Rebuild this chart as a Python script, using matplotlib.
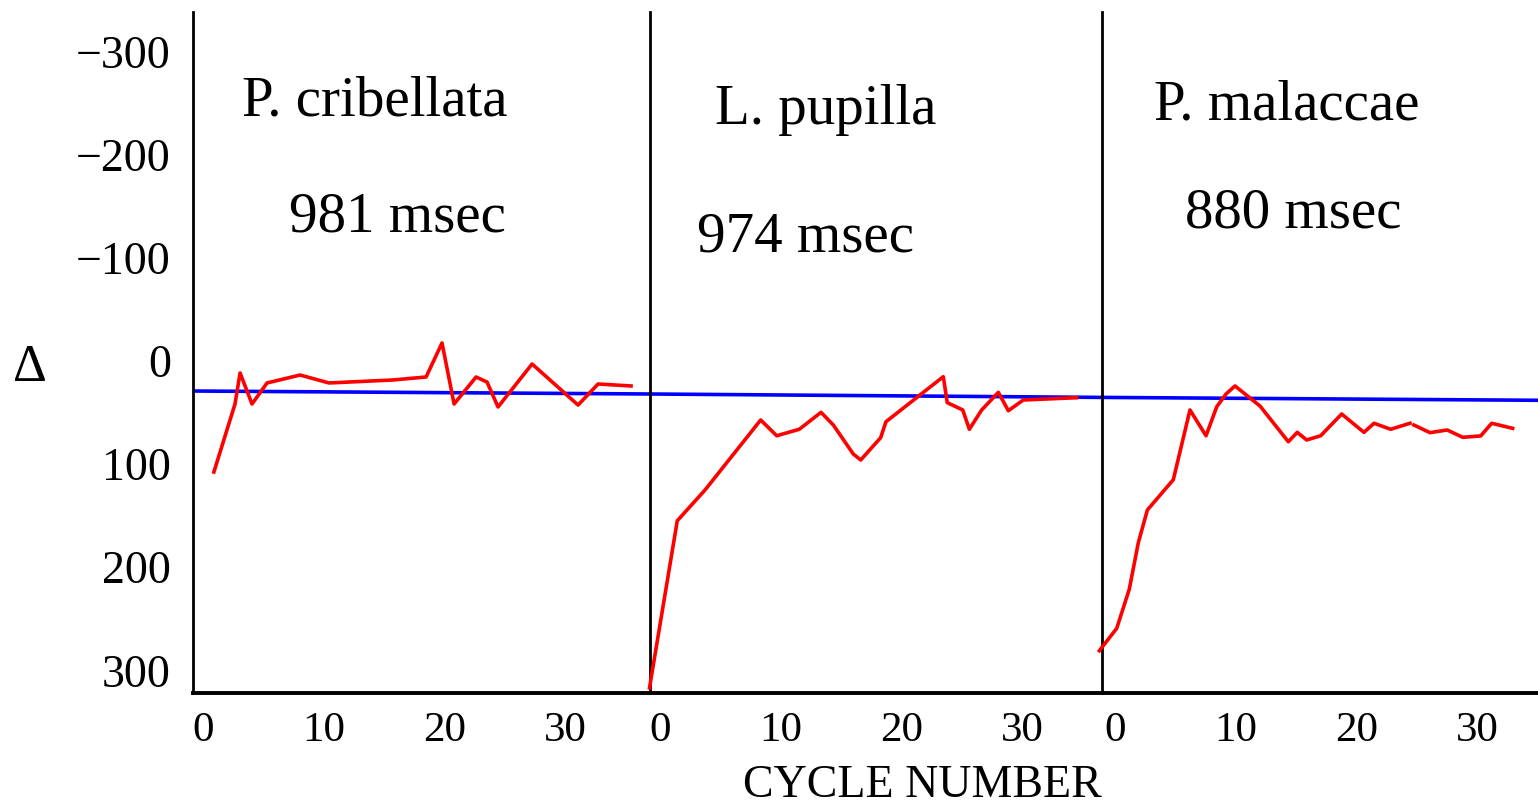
import numpy as np
import matplotlib
matplotlib.use("Agg")
import matplotlib.pyplot as plt

plt.rcParams['font.family'] = ['Liberation Serif', 'DejaVu Serif']

# data (cycle number, delta in msec)
species = ['P. cribellata', 'L. pupilla', 'P. malaccae']
periods = ['981 msec', '974 msec', '880 msec']

cyc_crib = [0.9, 2.65, 3.07, 4.06, 5.3, 8.04, 10.44, 15.74, 18.48, 19.8, 20.8,
            22.62, 23.53, 24.44, 27.26, 31.07, 32.73, 35.46]
delta_crib = [107.7, 41.7, 11.6, 41.7, 21.3, 13.6, 21.3, 18.4, 15.5, -17.5, 41.7,
              15.5, 20.4, 44.6, 2.9, 42.7, 22.3, 24.2]

cyc_pup = [-0.87, 1.43, 3.73, 8.34, 9.67, 11.54, 13.34, 14.36, 16.01, 16.63,
           18.28, 18.72, 23.47, 23.8, 25.08, 25.63, 26.65, 28.03, 28.86, 30.1, 34.52]
delta_pup = [317.0, 154.9, 125.1, 57.2, 72.5, 66.2, 49.8, 62.1, 90.2, 96.0,
             74.4, 58.9, 15.2, 40.4, 47.5, 66.2, 47.5, 30.4, 48.2, 37.8, 35.6]

cyc_mal = [-1.3, 0.14, 1.18, 1.93, 2.68, 4.83, 6.21, 7.54, 8.43, 9.2, 9.94,
           12.01, 14.36, 15.1, 15.88, 17.04, 18.78, 20.63, 21.46, 22.84, 24.44,
           np.nan, 24.77, 26.1, 27.53, 28.81, 30.3, 31.21, 32.95]
delta_mal = [281.0, 259.3, 221.4, 176.2, 144.5, 115.1, 47.5, 72.5, 44.3, 32.0, 24.2,
             43.6, 78.3, 69.2, 76.6, 72.5, 51.4, 69.2, 60.4, 66.2, 60.4,
             np.nan, 62.1, 69.5, 66.9, 74.0, 72.7, 60.4, 65.3]

# blue reference line, start/end value in each panel
ref_start = [29.1, 32.0, 35.3]
ref_end = [32.0, 35.3, 38.1]

yticks = [-300, -200, -100, 0, 100, 200, 300]
ytick_labels = ['\u2212300', '\u2212200', '\u2212100', '0', '100', '200', '300']
xticks = [0, 10, 20, 30]

W, H = 1538, 810
fig = plt.figure(figsize=(W / 100, H / 100), dpi=100)

lefts = [193, 650, 1102, 1538]
xlims = [(-0.83, 37.03), (-0.83, 36.62), (-1.08, 35.05)]
series = [(cyc_crib, delta_crib), (cyc_pup, delta_pup), (cyc_mal, delta_mal)]
bottom_px, top_px = 693, 12

for i in range(3):
    ax = fig.add_axes([lefts[i] / W, 1 - bottom_px / H,
                       (lefts[i + 1] - lefts[i]) / W, (bottom_px - top_px) / H])
    ax.set_xlim(*xlims[i])
    ax.set_ylim(322, -338.5)
    x, y = series[i]
    ax.plot(xlims[i], [ref_start[i], ref_end[i]], color='#0000ff', lw=2.6, zorder=2)
    ax.plot(x, y, color='#ff0000', lw=2.6, zorder=3, clip_on=False)
    for s in ['top', 'right']:
        ax.spines[s].set_visible(False)
    ax.spines['left'].set_linewidth(2.0)
    ax.spines['bottom'].set_linewidth(2.8)
    ax.set_xticks(xticks)
    ax.set_xticklabels([str(t) for t in xticks], fontsize=31)
    ax.tick_params(axis='x', length=0, pad=13)
    if i == 0:
        ax.set_yticks(yticks)
        ax.set_yticklabels(ytick_labels, fontsize=33)
        ax.tick_params(axis='y', length=0, pad=16)
    else:
        ax.set_yticks([])

title_pos = [(375, 102), (826, 110), (1287, 105)]
period_pos = [(397, 218), (805, 238), (1293, 213)]
for i in range(3):
    fig.text(title_pos[i][0] / W, 1 - title_pos[i][1] / H, species[i],
             fontsize=41, ha='center', va='center')
    fig.text(period_pos[i][0] / W, 1 - period_pos[i][1] / H, periods[i],
             fontsize=41, ha='center', va='center')

fig.text(30 / W, 1 - 368 / H, '\u0394', fontsize=38, ha='center', va='center')
fig.text(922 / W, 1 - 807 / H, 'CYCLE NUMBER', fontsize=33, ha='center', va='bottom')

fig.savefig('out.png', dpi=100)
